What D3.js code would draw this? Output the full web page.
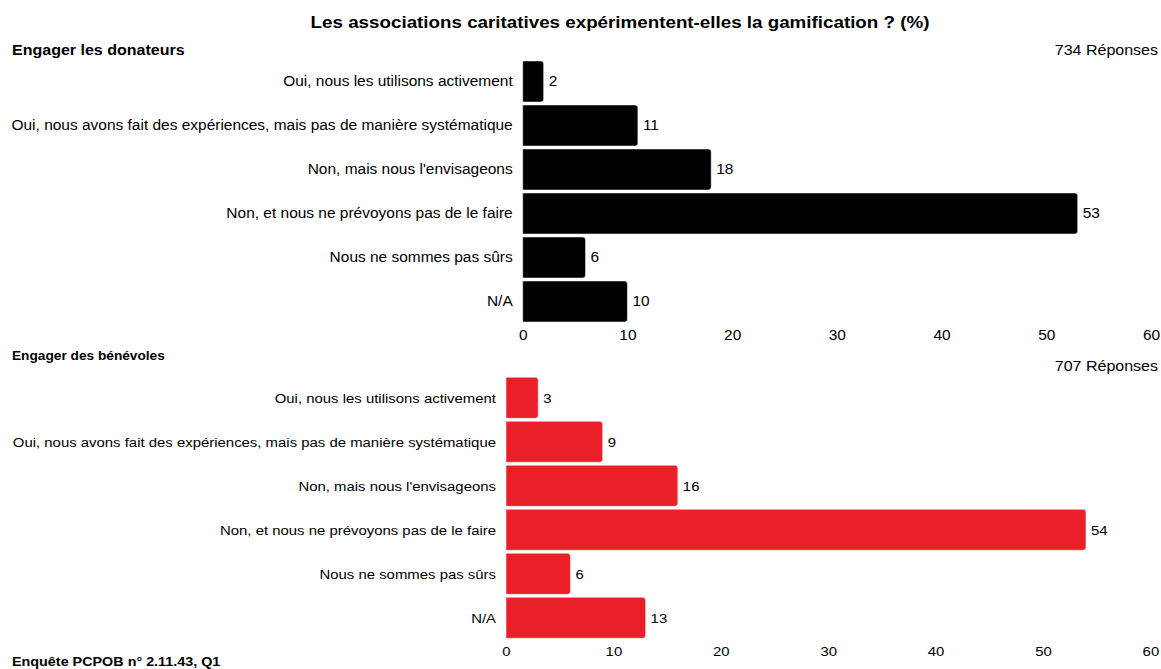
<!DOCTYPE html>
<html>
<head>
<meta charset="utf-8">
<script src="https://cdn.jsdelivr.net/npm/d3@7"></script>
<style>
  html, body { margin: 0; padding: 0; background: #fff; }
  svg { display: block; font-family: "Liberation Sans", Arial, Helvetica, sans-serif; }
</style>
</head>
<body>
<svg id="chart" width="1161" height="669"></svg>
<script>
// Survey answers, shared by both panels
const categories = [
  "Oui, nous les utilisons activement",
  "Oui, nous avons fait des expériences, mais pas de manière systématique",
  "Non, mais nous l'envisageons",
  "Non, et nous ne prévoyons pas de le faire",
  "Nous ne sommes pas sûrs",
  "N/A"
];
// Percentages per panel
const donorValues = [2, 11, 18, 53, 6, 10];
const volunteerValues = [3, 9, 16, 54, 6, 13];
const tickValues = [0, 10, 20, 30, 40, 50, 60];
const panelTitles = ["Engager les donateurs", "Engager des bénévoles"];
const responseCounts = ["734 Réponses", "707 Réponses"];
const chartTitle = "Les associations caritatives expérimentent-elles la gamification ? (%)";
const sourceNote = "Enquête PCPOB n° 2.11.43, Q1";

// Slightly wide lettering, as in the house style
const SX = 1.105;

const svg = d3.select("#chart");

// Text placed at (x, y) and widened horizontally around its anchor
function label(parent, x, y, str, opts) {
  return parent.append("text")
    .attr("transform", `translate(${x},${y}) scale(${SX},1)`)
    .attr("text-anchor", opts.anchor || "start")
    .attr("dy", opts.dy || null)
    .attr("font-size", opts.size)
    .attr("font-weight", opts.bold ? "bold" : null)
    .text(str);
}

label(svg, 620, 28, chartTitle, { anchor: "middle", size: 17, bold: true });

// Bar with square left edge and rounded right corners
function barPath(x0, y, w, h, r) {
  r = Math.min(r, w / 2, h / 2);
  return `M${x0},${y}H${x0 + w - r}Q${x0 + w},${y} ${x0 + w},${y + r}` +
         `V${y + h - r}Q${x0 + w},${y + h} ${x0 + w - r},${y + h}H${x0}Z`;
}

function drawPanel(opts) {
  const g = svg.append("g");
  const x = d3.scaleLinear().domain([0, 60]).range([opts.left, opts.right]);
  const y = d3.scaleBand().domain(categories)
    .range([opts.top, opts.bottom]).paddingInner(0.068).paddingOuter(0.034);

  label(g, 12, opts.headY, opts.title, { size: opts.headSize, bold: true });
  label(g, 1158, opts.countY, opts.count, { anchor: "end", size: 14.5 });

  const rows = categories.map((c, i) => ({ c, v: opts.values[i] }));

  g.selectAll("path.bar").data(rows).join("path")
    .attr("class", "bar")
    .attr("d", d => barPath(x(0), y(d.c), x(d.v) - x(0), y.bandwidth(), 3))
    .attr("fill", opts.color)
    .attr("stroke", "#fff").attr("stroke-width", 0.5);

  rows.forEach(d => {
    const cy = y(d.c) + y.bandwidth() / 2;
    label(g, x(d.v) + 5, cy, d.v, { size: opts.fontSize, dy: "0.35em" });
    label(g, x(0) - 10, cy, d.c, { anchor: "end", size: opts.fontSize, dy: "0.35em" });
  });

  const axis = g.append("g")
    .attr("transform", `translate(0,${opts.bottom})`)
    .call(d3.axisBottom(x).tickValues(tickValues).tickSize(0).tickPadding(7));
  axis.select(".domain").remove();
  axis.selectAll("text")
    .attr("transform", `scale(${SX},1)`)
    .attr("font-size", opts.fontSize)
    .attr("font-family", "Liberation Sans, Arial, sans-serif")
    .attr("fill", "#000");
}

drawPanel({
  title: panelTitles[0], count: responseCounts[0], values: donorValues,
  color: "#000000", left: 522.7, right: 1151, top: 59.5, bottom: 323.5,
  headY: 55, countY: 55, fontSize: 14, headSize: 14.5
});
drawPanel({
  title: panelTitles[1], count: responseCounts[1], values: volunteerValues,
  color: "#ea1f27", left: 506, right: 1150.4, top: 375.8, bottom: 639.8,
  headY: 360, countY: 371, fontSize: 13.5, headSize: 12.4
});

label(svg, 12, 666, sourceNote, { size: 13, bold: true });
</script>
</body>
</html>
